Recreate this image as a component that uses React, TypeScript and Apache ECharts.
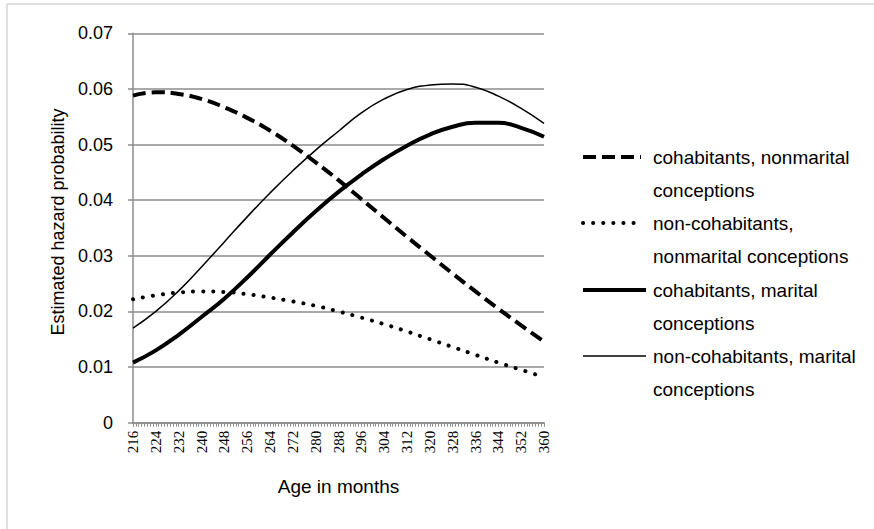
import React, { useEffect, useRef } from "react";
import * as echarts from "echarts";

const months = [216, 224, 232, 240, 248, 256, 264, 272, 280, 288, 296, 304, 312, 320, 328, 336, 344, 352, 360];

const cohabNonmarital = [0.0588, 0.0594, 0.0591, 0.0582, 0.0567, 0.0548, 0.0525, 0.0498, 0.0468, 0.0436, 0.0402, 0.0368, 0.0334, 0.0301, 0.0268, 0.0236, 0.0205, 0.0175, 0.0146];
const nonCohabNonmarital = [0.0222, 0.0229, 0.0234, 0.0236, 0.0235, 0.0231, 0.0225, 0.0218, 0.021, 0.02, 0.0189, 0.0177, 0.0164, 0.015, 0.0136, 0.0122, 0.0108, 0.0095, 0.0082];
const cohabMarital = [0.0108, 0.013, 0.0158, 0.019, 0.0223, 0.0261, 0.0302, 0.0342, 0.038, 0.0415, 0.0446, 0.0474, 0.0498, 0.0518, 0.0532, 0.0539, 0.0539, 0.053, 0.0514];
const nonCohabMarital = [0.017, 0.02, 0.0237, 0.028, 0.0325, 0.037, 0.0413, 0.0453, 0.049, 0.0524, 0.0557, 0.0582, 0.0599, 0.0607, 0.0609, 0.0603, 0.0587, 0.0565, 0.0538];

const legendLines = [
  ["cohabitants, nonmarital", "conceptions"],
  ["non-cohabitants,", "nonmarital conceptions"],
  ["cohabitants, marital", "conceptions"],
  ["non-cohabitants, marital", "conceptions"],
];

const yTicks = ["0", "0.01", "0.02", "0.03", "0.04", "0.05", "0.06", "0.07"];

const GRAY = "#8c8c8c";

export default function App() {
  const ref = useRef<HTMLDivElement>(null);
  useEffect(() => {
    if (!ref.current) return;
    const chart = echarts.init(ref.current, null, { renderer: "svg" });
    const styles = [
      { width: 4, type: [13, 6] as any, cap: "butt" },
      { width: 4, type: [0.1, 10] as any, cap: "round" },
      { width: 4, type: "solid", cap: "butt" },
      { width: 1.5, type: "solid", cap: "butt" },
    ];
    const seriesData = [cohabNonmarital, nonCohabNonmarital, cohabMarital, nonCohabMarital];
    const legendY = [157, 223, 290, 356];
    const legendX2 = [641, 639, 646, 646];
    const graphics: any[] = [
      { type: "line", shape: { x1: 7, y1: 4, x2: 874, y2: 4 }, style: { stroke: "#d4d4d4", lineWidth: 1.5 } },
      { type: "line", shape: { x1: 7, y1: 4, x2: 7, y2: 529 }, style: { stroke: "#d4d4d4", lineWidth: 1.5 } },
    ];
    legendLines.forEach((lines, i) => {
      const s = styles[i];
      graphics.push({
        type: "line",
        shape: { x1: 583, y1: legendY[i], x2: legendX2[i], y2: legendY[i] },
        style: {
          stroke: "#000",
          lineWidth: s.width,
          lineDash: Array.isArray(s.type) ? s.type : null,
          lineCap: s.cap,
        },
      });
      lines.forEach((t, j) => {
        graphics.push({
          type: "text",
          x: 653,
          y: legendY[i] + j * 33.4,
          style: {
            text: t,
            fill: "#000",
            font: '19px "Liberation Sans", Arial, sans-serif',
            verticalAlign: "middle",
            align: "left",
          },
        });
      });
    });

    chart.setOption({
      animation: false,
      grid: { left: 133, right: 330, top: 33.3, bottom: 106.3, containLabel: false, outerBoundsMode: "none" },
      xAxis: {
        type: "value",
        min: 216,
        max: 360,
        interval: 8,
        name: "Age in months",
        nameLocation: "middle",
        nameGap: 54,
        nameTextStyle: { fontSize: 19, fontFamily: "Liberation Sans", color: "#000" },
        axisLine: { show: true, onZero: false, lineStyle: { color: GRAY, width: 1.5 } },
        axisTick: { show: true, length: 4, lineStyle: { color: GRAY, width: 1 } },
        minorTick: { show: true, splitNumber: 8, length: 4, lineStyle: { color: GRAY, width: 1 } },
        axisLabel: { rotate: 90, fontFamily: "Liberation Serif", fontSize: 15, color: "#000", margin: 8 },
        splitLine: { show: false },
        minorSplitLine: { show: false },
      },
      yAxis: {
        type: "value",
        min: 0,
        max: 0.07,
        interval: 0.01,
        name: "Estimated hazard probability",
        nameLocation: "middle",
        nameGap: 66,
        nameTextStyle: { fontSize: 18, fontFamily: "Liberation Sans", color: "#000", padding: [0, 0, 0, 12] },
        axisLine: { show: true, lineStyle: { color: GRAY, width: 1.5 } },
        axisTick: { show: true, length: 5, lineStyle: { color: GRAY, width: 1.5 } },
        axisLabel: {
          fontFamily: "Liberation Sans",
          fontSize: 18,
          color: "#000",
          margin: 20,
          formatter: (v: number) => yTicks[Math.round(v * 100)] ?? String(v),
        },
        splitLine: { show: true, lineStyle: { color: GRAY, width: 1.5 } },
      },
      series: legendLines.map((lines, i) => ({
        type: "line",
        name: lines.join(" "),
        data: months.map((m, k) => [m, seriesData[i][k]]),
        smooth: 0.5,
        symbol: "none",
        lineStyle: { color: "#000", width: styles[i].width, type: styles[i].type, cap: styles[i].cap },
        z: 3,
      })),
      graphic: graphics,
    });
    return () => chart.dispose();
  }, []);
  return <div ref={ref} style={{ position: "fixed", left: 0, top: 0, width: 874, height: 529, background: "#fff" }} />;
}
